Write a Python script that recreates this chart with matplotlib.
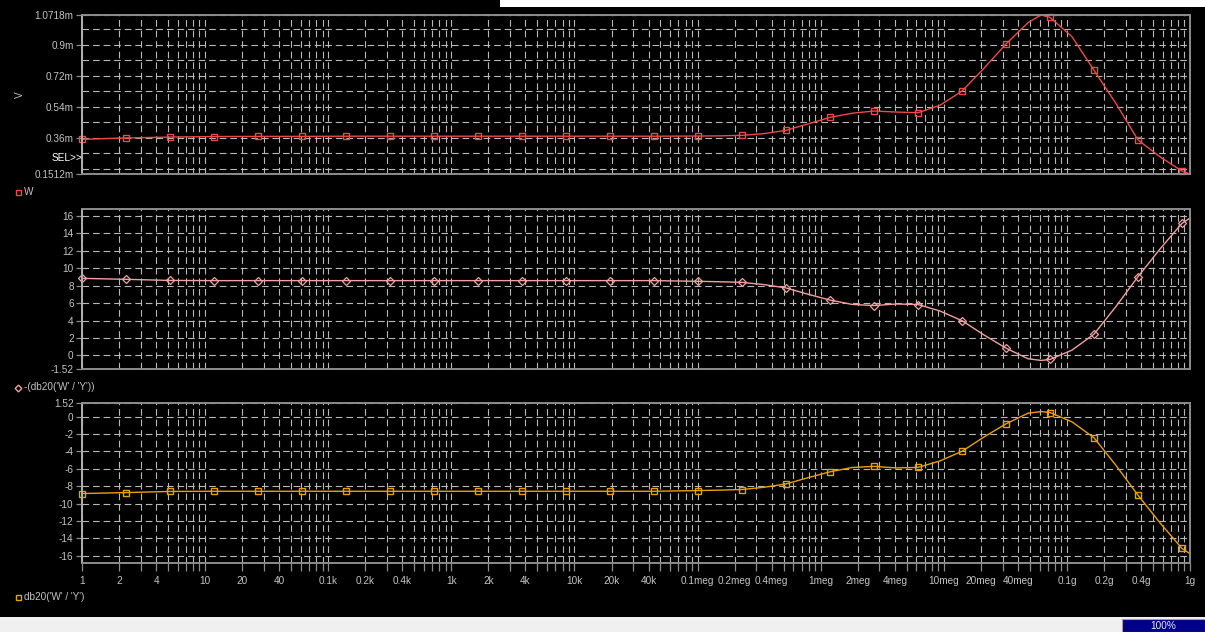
import matplotlib
matplotlib.use("Agg")
import matplotlib.pyplot as plt
from matplotlib.patches import Rectangle
from matplotlib.ticker import FixedLocator, NullFormatter, LogLocator
import numpy as np

# ---- sweep data -------------------------------------------------------------
freq = [1, 2.28, 5.19, 11.8, 26.9, 61.2, 139, 318, 723, 1650, 3750, 8540,
        19.4e3, 44.3e3, 101e3, 152e3, 230e3, 347e3, 523e3, 789e3, 1.19e6,
        1.80e6, 2.71e6, 4.09e6, 6.17e6, 9.31e6, 14.1e6, 21.2e6, 32.0e6,
        48.3e6, 61.7e6, 72.9e6, 110e6, 166e6, 250e6, 378e6, 570e6, 861e6, 1e9]

# V(W) in millivolts
v_w = [0.352, 0.360, 0.365, 0.368, 0.369, 0.369, 0.370, 0.370, 0.370, 0.370,
       0.370, 0.370, 0.370, 0.370, 0.371, 0.372, 0.375, 0.385, 0.404, 0.441,
       0.479, 0.503, 0.516, 0.510, 0.506, 0.549, 0.632, 0.763, 0.904, 1.027,
       1.0718, 1.058, 0.946, 0.752, 0.560, 0.348, 0.251, 0.168, 0.1512]

# db20('W' / 'Y')
db_wy = [-8.84, -8.73, -8.60, -8.58, -8.58, -8.58, -8.58, -8.58, -8.58, -8.58,
         -8.58, -8.58, -8.58, -8.58, -8.50, -8.45, -8.38, -8.12, -7.74, -7.02,
         -6.35, -5.85, -5.72, -5.90, -5.84, -5.10, -3.98, -2.35, -0.84, 0.38,
         0.57, 0.46, -0.61, -2.44, -5.60, -9.03, -12.2, -15.15, -15.75]

# -(db20('W' / 'Y'))
neg_db_wy = [-v for v in db_wy]

xtick_vals = [1, 2, 4, 10, 20, 40, 100, 200, 400, 1e3, 2e3, 4e3, 1e4, 2e4, 4e4,
              1e5, 2e5, 4e5, 1e6, 2e6, 4e6, 1e7, 2e7, 4e7, 1e8, 2e8, 4e8, 1e9]
xtick_labels = ["1", "2", "4", "10", "20", "40", "0.1k", "0.2k", "0.4k", "1k",
                "2k", "4k", "10k", "20k", "40k", "0.1meg", "0.2meg", "0.4meg",
                "1meg", "2meg", "4meg", "10meg", "20meg", "40meg", "0.1g",
                "0.2g", "0.4g", "1g"]

top_ticks = [1.0718, 0.9, 0.72, 0.54, 0.36, 0.1512]
top_tick_labels = ["1.0718m", "0.9m", "0.72m", "0.54m", "0.36m", "0.1512m"]
mid_ticks = [16, 14, 12, 10, 8, 6, 4, 2, 0, -1.52]
bot_ticks = [1.52, 0, -2, -4, -6, -8, -10, -12, -14, -16]

# ---- styling ----------------------------------------------------------------
W, H = 1205, 632
BG = "black"
TXT = "#c4c4c4"
FRAME = "#8c8c8c"
GRID = "#b8b8b8"
RED = "#f04848"
PINK = "#f2a0a0"
ORANGE = "#eaa000"
FS = 7.2
DASH = (0, (6, 3.5))

plt.rcParams["font.family"] = ["Liberation Sans", "DejaVu Sans"]

fig = plt.figure(figsize=(W / 100, H / 100), dpi=100, facecolor=BG)


def axes_px(x0, y0, x1, y1):
    return fig.add_axes([x0 / W, 1 - y1 / H, (x1 - x0) / W, (y1 - y0) / H])


def style(ax, ylim, yticks, ylabels, ygrid, show_x):
    ax.set_facecolor(BG)
    ax.set_xscale("log")
    ax.set_xlim(1, 1e9)
    ax.set_ylim(*ylim)
    for s in ax.spines.values():
        s.set_color(FRAME)
        s.set_linewidth(1.4)
    ax.spines["left"].set_color("#b0b0b0")
    ax.xaxis.set_major_locator(FixedLocator(xtick_vals))
    ax.xaxis.set_minor_locator(LogLocator(base=10, subs=np.arange(1, 10), numticks=20))
    ax.xaxis.set_minor_formatter(NullFormatter())
    if show_x:
        ax.set_xticklabels(xtick_labels)
        ax.tick_params(axis="x", which="both", direction="out", length=6,
                       width=0.9, color=FRAME, labelcolor=TXT, labelsize=FS, pad=3)
    else:
        ax.tick_params(axis="x", which="both", length=0, labelbottom=False)
    ax.yaxis.set_major_locator(FixedLocator(yticks))
    ax.set_yticklabels(ylabels)
    ax.yaxis.set_minor_locator(FixedLocator(ygrid))
    ax.tick_params(axis="y", which="major", direction="out", length=4, width=0.9,
                   color=FRAME, labelcolor=TXT, labelsize=FS, pad=2)
    ax.tick_params(axis="y", which="minor", length=0)
    ax.grid(True, axis="x", which="both", color=GRID, linestyle=DASH, linewidth=0.8)
    ax.grid(True, axis="y", which="both", color=GRID, linestyle=DASH, linewidth=0.8)
    ax.set_axisbelow(True)


mark_idx = [0, 1, 2, 3, 4, 5, 6, 7, 8, 9, 10, 11, 12, 13, 14, 16, 18, 20, 22,
            24, 26, 28, 31, 33, 35, 37]

# top panel: V(W)
ax1 = axes_px(82, 15, 1190, 174)
style(ax1, (0.1512, 1.0718), top_ticks, top_tick_labels,
      [0.18, 0.27, 0.36, 0.45, 0.54, 0.63, 0.72, 0.81, 0.90, 0.99], False)
ax1.plot(freq, v_w, color=RED, lw=1.0, marker="s", ms=4.2, mfc="none",
         mec=RED, mew=1.0, markevery=mark_idx, clip_on=False)

# middle panel: -(db20('W'/'Y'))
ax2 = axes_px(82, 208.5, 1190, 368.7)
style(ax2, (-1.52, 16.85), mid_ticks, [f"{t:g}" for t in mid_ticks],
      [0, 2, 4, 6, 8, 10, 12, 14, 16], False)
ax2.plot(freq, neg_db_wy, color=PINK, lw=1.0, marker="D", ms=3.8, mfc="none",
         mec=PINK, mew=0.9, markevery=mark_idx, clip_on=False)

# bottom panel: db20('W'/'Y')
ax3 = axes_px(82, 403.3, 1190, 563.3)
style(ax3, (-16.85, 1.52), bot_ticks, [f"{t:g}" for t in bot_ticks],
      [0, -2, -4, -6, -8, -10, -12, -14, -16], True)
ax3.plot(freq, db_wy, color=ORANGE, lw=1.0, marker="s", ms=4.2, mfc="none",
         mec=ORANGE, mew=1.0, markevery=mark_idx, clip_on=False)


def ftext(x, y, s, **kw):
    fig.text(x / W, 1 - y / H, s, **kw)


ftext(20, 95, "V", color=TXT, fontsize=FS, ha="center", va="center", rotation=90)
ftext(82, 158, "SEL>>", color="white", fontsize=FS, ha="right", va="center")

# trace legends
for y, sym, col, label in [(192, "s", RED, "W"),
                           (387.5, "D", PINK, "-(db20('W' / 'Y'))"),
                           (596.5, "s", ORANGE, "db20('W' / 'Y')")]:
    fig.add_artist(plt.Line2D([18 / W], [1 - y / H], marker=sym, ms=3.6 if sym == "s" else 3.4,
                              mfc="none", mec=col, mew=1.0, ls="none"))
    ftext(24, y, label, color=TXT, fontsize=FS, ha="left", va="center")

# status bar
fig.add_artist(Rectangle((0, 0), 1, 15.5 / H, transform=fig.transFigure,
                         facecolor="#f0f0f0", edgecolor="none"))
fig.add_artist(Rectangle((1122 / W, 0), 83 / W, 13 / H, transform=fig.transFigure,
                         facecolor="#000088", edgecolor="#a0a0a0", lw=0.8))
ftext(1163, 626, "100%", color="#e8e8ff", fontsize=FS, ha="center", va="center")

# window top edge
fig.add_artist(Rectangle((500 / W, 1 - 7 / H), 705 / W, 7 / H, transform=fig.transFigure,
                         facecolor="white", edgecolor="none"))

fig.savefig("out.png", dpi=100, facecolor=BG)
